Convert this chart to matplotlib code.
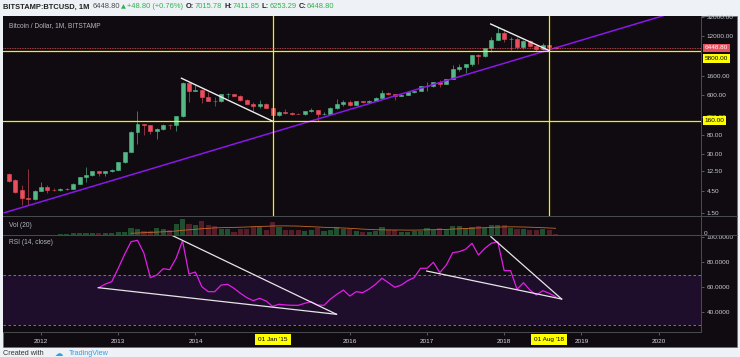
import numpy as np
import pandas as pd
import matplotlib
matplotlib.use("Agg")
import matplotlib.pyplot as plt
from matplotlib.patches import Rectangle
from matplotlib.lines import Line2D

plt.rcParams['font.family'] = ['Liberation Sans', 'DejaVu Sans']

# ---------------- data ----------------
first_month = "2011-08"
last_month = "2018-09"

opens = [10.9, 8.0, 4.8, 3.2, 3.0,
         4.7, 5.5, 4.95, 4.85, 5.0, 5.15, 6.7, 9.4, 10.2, 12.4, 11.2, 12.6,
         13.5, 20.4, 33.4, 93, 139, 129, 97, 106, 135, 133, 204, 1120,
         732, 800, 550, 450, 447, 630, 640, 585, 478, 386, 338, 378,
         320, 217, 254, 244, 236, 230, 264, 284, 230, 236, 314, 377,
         430, 368, 437, 416, 448, 531, 673, 624, 573, 608, 701, 742,
         963, 970, 1190, 1080, 1350, 2300, 2480, 2870, 4700, 4340, 6450, 9950,
         13860, 10220, 10330, 6930, 9240, 7490, 6390, 7730, 7015.78]
highs = [11.7, 8.4, 6.2, 14.0, 4.8,
         7.3, 6.2, 5.4, 5.3, 5.3, 6.75, 9.6, 15.4, 12.9, 12.8, 12.9, 13.9,
         20.5, 34, 95, 266, 140, 129.5, 111, 136, 142, 210, 1163, 1140,
         1000, 830, 710, 545, 630, 680, 650, 600, 500, 415, 460, 410,
         320, 265, 300, 261, 247, 268, 315, 285, 249, 335, 502, 470,
         462, 447, 439, 469, 552, 780, 704, 627, 631, 722, 757, 975,
         1153, 1200, 1295, 1350, 2760, 2990, 2930, 4750, 4980, 6470, 11400, 19666,
         17250, 11790, 11680, 9760, 9990, 7770, 8500, 7760, 7411.85]
lows = [7.2, 4.1, 2.2, 2.2, 2.9,
        4.6, 4.1, 4.6, 4.7, 4.9, 5.1, 6.5, 7.1, 9.8, 9.8, 10.1, 12.2,
        13.2, 19.5, 33, 50, 80, 85, 65, 101, 108, 95, 195, 420,
        731, 410, 440, 340, 420, 525, 570, 445, 375, 275, 315, 308,
        152, 212, 236, 214, 228, 218, 253, 162, 224, 236, 300, 347,
        350, 368, 394, 412, 436, 524, 606, 470, 573, 605, 685, 742,
        752, 915, 890, 1060, 1350, 2100, 1830, 2680, 2970, 4110, 5500, 9950,
        9000, 5920, 6430, 6430, 7030, 5780, 6070, 5880, 6253.29]
closes = [7.6, 4.4, 3.15, 3.0, 4.7,
          5.5, 4.9, 4.85, 5.0, 5.15, 6.7, 9.4, 10.2, 12.4, 11.2, 12.6, 13.5,
          20.4, 33.4, 93, 139, 129, 97, 106, 135, 133, 204, 1120, 732,
          800, 550, 450, 447, 630, 640, 585, 478, 386, 338, 378, 320,
          217, 254, 244, 236, 230, 264, 284, 230, 236, 314, 377, 430,
          368, 437, 416, 448, 531, 673, 624, 573, 608, 701, 742, 963,
          970, 1190, 1080, 1350, 2300, 2480, 2870, 4700, 4340, 6450, 9950, 13860,
          10220, 10330, 6930, 9240, 7490, 6390, 7730, 7015, 6448.80]

# monthly volume (thousand BTC, approximate)
volumes = [16, 16, 20, 20, 20,
           24, 24, 32, 40, 60, 92, 92, 104, 92, 92, 100, 112,
           120, 128, 308, 240, 160, 180, 308, 252, 200, 468, 640, 468,
           400, 572, 400, 360, 240, 240, 132, 240, 268, 332, 332, 228,
           532, 332, 228, 228, 200, 180, 200, 280, 160, 200, 320, 240,
           240, 160, 140, 140, 160, 320, 200, 200, 140, 140, 160, 180,
           280, 200, 280, 200, 360, 360, 280, 320, 360, 280, 400, 400,
           400, 280, 240, 240, 200, 200, 240, 200, 60]

vol_ma_start = "2013-03"
vol_ma = [80, 92, 104, 116, 128, 140, 152, 172, 200, 220, 240, 264, 280, 296,
          304, 312, 316, 324, 332, 344, 356, 360, 372, 376, 376, 372, 368, 356,
          344, 332, 320, 308, 300, 292, 280, 264, 248, 236, 224, 220, 216, 212,
          212, 208, 208, 212, 220, 224, 232, 236, 248, 260, 272, 284, 296, 304,
          316, 328, 336, 340, 336, 332, 324, 316, 304, 292, 280]

rsi_start = "2012-10"
rsi = [59.7, 62.6, 64.5, 75.2, 86.4, 96.5, 97.6, 87.2, 67.7, 69.8, 74.9, 74.1,
       83.2, 97.3, 70.6, 72.2, 60.5, 56.5, 56.5, 61.8, 62.4, 59.2, 55.2, 51.7,
       49.3, 51.2, 49.0, 44.8, 46.4, 45.9, 45.6, 45.6, 47.2, 48.5, 45.8, 45.6,
       50.6, 54.4, 57.8, 53.0, 56.5, 55.7, 58.6, 62.4, 67.2, 63.7, 60.0, 61.8,
       65.3, 67.7, 75.2, 75.2, 80.0, 71.7, 77.8, 87.7, 88.5, 90.4, 95.2, 85.8,
       91.2, 95.2, 96.5, 73.3, 73.3, 58.4, 63.7, 57.8, 53.8, 57.3, 55.2, 52.5]

price_ticks = [1.5, 4.5, 12.5, 30, 80, 200, 600, 1600, 12000, 32000]
rsi_ticks = [40, 60, 80, 100]
year_ticks = ["2012", "2013", "2014", "2016", "2017", "2018", "2019", "2020"]

last_price = 6448.80
h_levels = [5800, 160]
v_dates = ["2015-01-01", "2018-08-01"]
v_labels = ["01 Jan '15", "01 Aug '18"]

purple_dates = ["2011-07-10", "2020-01-22"]
purple_prices = [1.52, 34000]
white1_dates = ["2013-10-27", "2015-01-01"]
white1_prices = [1420, 160]
white2_dates = ["2017-10-29", "2018-08-01"]
white2_prices = [22400, 5800]
rsi_l1_dates = ["2012-09-28", "2015-10-30"]
rsi_l1_vals = [59.7, 38.4]
rsi_u1_dates = ["2013-09-15", "2015-10-30"]
rsi_u1_vals = [101.3, 38.4]
rsi_l2_dates = ["2016-12-31", "2018-09-29"]
rsi_l2_vals = [73.0, 50.6]
rsi_u2_dates = ["2017-10-30", "2018-09-29"]
rsi_u2_vals = [100.5, 50.6]

header_parts = [("BITSTAMP:BTCUSD, 1M", "bold", "#222222", 2.5),
                ("6448.80", "normal", "#4a4a4a", 1.5),
                ("\u25B2", "normal", "#2eb34c", 1.2),
                ("+48.80 (+0.76%)", "normal", "#2eb34c", 2.5),
                ("O:", "bold", "#222222", 0.3), ("7015.78", "normal", "#2eb34c", 2.5),
                ("H:", "bold", "#222222", 0.3), ("7411.85", "normal", "#2eb34c", 2.5),
                ("L:", "bold", "#222222", 0.3), ("6253.29", "normal", "#2eb34c", 2.5),
                ("C:", "bold", "#222222", 0.3), ("6448.80", "normal", "#2eb34c", 0)]


# ---------------- helpers ----------------
def mpos(s):
    """month position: Jan 2012 = 0, one unit per monthly bar"""
    t = pd.Timestamp(s)
    base = (t.year - 2012) * 12 + (t.month - 1)
    return base + (t.day - 1) / t.days_in_month


months = pd.period_range(first_month, last_month, freq="M")
xs = np.array([(p.year - 2012) * 12 + p.month - 1 for p in months], dtype=float)
p0 = pd.Period(vol_ma_start, "M")
ma_x = np.arange(len(vol_ma)) + (p0.year - 2012) * 12 + p0.month - 1
r0 = pd.Period(rsi_start, "M")
rsi_x = np.arange(len(rsi)) + (r0.year - 2012) * 12 + r0.month - 1

W, H = 740, 357


def fx(x):
    return x / W


def fy(y):
    return 1 - y / H


BG = "#0f0b11"
GREEN = "#53b987"
RED = "#eb4d5c"
GREEN_W = "#3d7a5f"
RED_W = "#8e3440"
YEL = "#f2f200"
GRID = "#4a4a52"
TXT = "#c9ccd3"
FS = 4.6

fig = plt.figure(figsize=(7.4, 3.57), dpi=100)
fig.patch.set_facecolor("#eef1f5")
fig.patches.append(Rectangle((fx(3), fy(346.5)), fx(734), (346.5 - 15.7) / H,
                             transform=fig.transFigure, facecolor=BG,
                             edgecolor="#6a6a70", lw=0.5, zorder=-2))

XL = ((3 - 41) / 6.433, (701 - 41) / 6.433)

ax = fig.add_axes([fx(3), fy(216.5), fx(698), (216.5 - 15.7) / H])
axv = fig.add_axes([fx(3), fy(235.3), fx(698), (235.3 - 216.5) / H])
axr = fig.add_axes([fx(3), fy(331.5), fx(698), (331.5 - 235.3) / H])

for a in (ax, axv, axr):
    a.set_facecolor(BG)
    a.set_xlim(*XL)
    for s in a.spines.values():
        s.set_visible(False)
    a.tick_params(axis="x", bottom=False, labelbottom=False)

# ---------- main price pane ----------
ax.set_yscale("log")
ax.set_ylim(1.256, 34180)
ax.yaxis.tick_right()
ax.set_yticks(price_ticks)
ax.set_yticklabels(["%.2f" % v for v in price_ticks])
ax.yaxis.set_minor_locator(matplotlib.ticker.NullLocator())
ax.tick_params(axis="y", length=2.5, width=0.5, color="#777", pad=1.5,
               labelsize=FS, labelcolor=TXT)

o = np.array(opens); h = np.array(highs); l = np.array(lows); c = np.array(closes)
up = c >= o
ax.vlines(xs, l, h, colors=np.where(up, GREEN_W, RED_W), lw=0.7, zorder=3)
ax.bar(xs, np.abs(c - o), bottom=np.minimum(o, c), width=0.62,
       color=np.where(up, GREEN, RED), edgecolor=np.where(up, GREEN, RED),
       lw=0.4, zorder=4)

ax.plot([mpos(d) for d in purple_dates], purple_prices, color="#8a17e8", lw=1.1, zorder=5)
ax.plot([mpos(d) for d in white1_dates], white1_prices, color="#eeeeee", lw=1.0, zorder=6)
ax.plot([mpos(d) for d in white2_dates], white2_prices, color="#eeeeee", lw=1.0, zorder=6)
for lv in h_levels:
    ax.axhline(lv, color=YEL, lw=0.9, zorder=5)
for d in v_dates:
    ax.axvline(mpos(d), color=YEL, lw=0.9, zorder=5)
ax.axhline(last_price, color="#e8515e", lw=0.6, ls=(0, (1, 1)), zorder=5)

ax.text(6 / 698, 0.95, "Bitcoin / Dollar, 1M, BITSTAMP",
        transform=ax.transAxes, fontsize=4.8, color="#b4b7bf", va="center", ha="left")

ax.annotate("%.2f" % last_price, xy=(1.0, last_price), xycoords=("axes fraction", "data"),
            xytext=(3.5, 0.5), textcoords="offset pixels", ha="left", va="center",
            fontsize=FS, color="white", annotation_clip=False, zorder=10,
            bbox=dict(boxstyle="square,pad=0.3", fc="#e8515e", ec="none"))
ax.annotate("%.2f" % h_levels[0], xy=(1.0, h_levels[0]), xycoords=("axes fraction", "data"),
            xytext=(3.5, -8), textcoords="offset pixels", ha="left", va="center",
            fontsize=FS, color="black", annotation_clip=False, zorder=10,
            bbox=dict(boxstyle="square,pad=0.3", fc="#ffff00", ec="none"))
ax.annotate("%.2f" % h_levels[1], xy=(1.0, h_levels[1]), xycoords=("axes fraction", "data"),
            xytext=(3.5, 0.5), textcoords="offset pixels", ha="left", va="center",
            fontsize=FS, color="black", annotation_clip=False, zorder=10,
            bbox=dict(boxstyle="square,pad=0.3", fc="#ffff00", ec="none"))

# ---------- volume pane ----------
axv.bar(xs, volumes, width=0.8, color=np.where(up, "#1f4f2e", "#531e28"), zorder=2)
axv.plot(ma_x, vol_ma, color="#c8692a", lw=0.6, zorder=3)
axv.set_ylim(0, 752)
axv.set_yticks([])
axv.text(6 / 698, 0.5, "Vol (20)", transform=axv.transAxes, fontsize=4.8,
         color="#b4b7bf", va="center", ha="left")

# ---------- RSI pane ----------
axr.set_ylim(24.64, 101.6)
axr.axhspan(30, 70, color="#1f0d2c", zorder=0, lw=0)
axr.axhline(70, color="#8d8199", lw=0.6, ls=(0, (3, 3)), zorder=1)
axr.axhline(30, color="#8d8199", lw=0.6, ls=(0, (3, 3)), zorder=1)
axr.plot(rsi_x, rsi, color="#e21ee6", lw=0.9, zorder=4)
for dd, vv in ((rsi_l1_dates, rsi_l1_vals), (rsi_u1_dates, rsi_u1_vals),
               (rsi_l2_dates, rsi_l2_vals), (rsi_u2_dates, rsi_u2_vals)):
    axr.plot([mpos(d) for d in dd], vv, color="#e6e6e6", lw=0.9, zorder=5)
axr.yaxis.tick_right()
axr.set_yticks(rsi_ticks)
axr.set_yticklabels(["%.4f" % v for v in rsi_ticks])
axr.tick_params(axis="y", length=2.5, width=0.5, color="#777", pad=1.5,
                labelsize=FS, labelcolor=TXT)
axr.text(6 / 698, 0.92, "RSI (14, close)", transform=axr.transAxes, fontsize=4.8,
         color="#b4b7bf", va="center", ha="left")

axr.tick_params(axis="x", bottom=True, labelbottom=True, length=2.5, width=0.5,
                color="#777", pad=3, labelsize=FS, labelcolor="#d6d8de")
axr.set_xticks([mpos(y + "-01-01") for y in year_ticks])
axr.set_xticklabels(year_ticks)
for d, lab in zip(v_dates, v_labels):
    axr.annotate(lab, xy=(mpos(d), 0), xycoords=("data", "axes fraction"),
                 xytext=(0, -8), textcoords="offset pixels", ha="center", va="center",
                 fontsize=FS, color="black", annotation_clip=False, zorder=10,
                 bbox=dict(boxstyle="square,pad=0.5", fc="#ffff00", ec="none"))

# ---------- separators / chrome ----------
def fline(x0, y0, x1, y1, color=GRID, lw=0.7, z=3):
    fig.add_artist(Line2D([fx(x0), fx(x1)], [fy(y0), fy(y1)], color=color, lw=lw,
                          transform=fig.transFigure, zorder=z))

fig.patches.append(Rectangle((fx(702), fy(235.6)), fx(35), (235.6 - 217.2) / H,
                             transform=fig.transFigure, facecolor=BG, edgecolor="none",
                             zorder=4))
fig.text(fx(704), fy(233.3), "0", fontsize=FS, color=TXT, va="center", ha="left", zorder=6)
fline(3, 216.5, 737, 216.5, z=5)
fline(3, 235.3, 737, 235.3, z=5)
fline(3, 331.5, 701, 331.5, z=5)
fline(701, 15.7, 701, 331.5, z=5)

# ---------- header (laid out left to right by measured widths) ----------
renderer = fig.canvas.get_renderer()
hx = 3.3
hy = fy(7.0)
for txt, wt, col, gap in header_parts:
    fam = ["DejaVu Sans"] if txt == "\u25B2" else None
    kw = dict(fontsize=5.4 if txt != "\u25B2" else 4.6, weight=wt, color=col, va="center", ha="left")
    if fam:
        kw["family"] = fam
    t = fig.text(fx(hx), hy, txt, **kw)
    bb = t.get_window_extent(renderer=renderer)
    hx += bb.width + gap

# ---------- footer ----------
fig.text(fx(3), fy(350), "Created with", fontsize=5.2, color="#333", va="top", ha="left")
fig.text(fx(55), fy(349.5), "\u2601", fontsize=6, color="#2f9ee8", va="top", ha="left",
         family=["DejaVu Sans"])
fig.text(fx(69), fy(350), "TradingView", fontsize=5.2, color="#2f9ee8", va="top", ha="left")

fig.savefig("out.png", dpi=100, facecolor=fig.get_facecolor())
